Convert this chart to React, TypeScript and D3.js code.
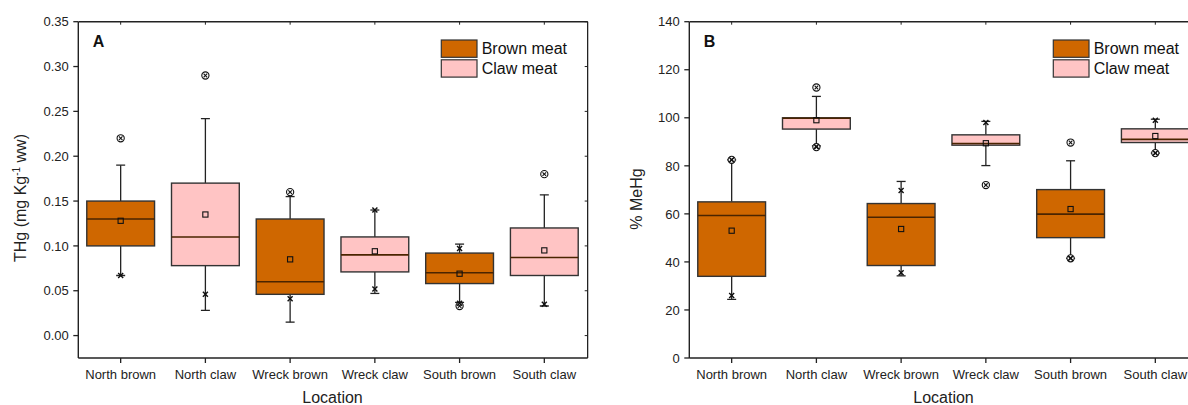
import React from "react";
import * as d3 from "d3";

const categories = ["North brown", "North claw", "Wreck brown", "Wreck claw", "South brown", "South claw"];
const meatType = ["brown", "claw", "brown", "claw", "brown", "claw"];

// Panel A: THg (mg/kg ww)
const aQ1 = [0.1, 0.078, 0.046, 0.071, 0.058, 0.067];
const aMedian = [0.13, 0.11, 0.06, 0.09, 0.07, 0.087];
const aQ3 = [0.15, 0.17, 0.13, 0.11, 0.092, 0.12];
const aMean = [0.128, 0.135, 0.085, 0.094, 0.069, 0.095];
const aWhiskLo = [0.067, 0.028, 0.015, 0.047, 0.037, 0.033];
const aWhiskHi = [0.19, 0.242, 0.155, 0.14, 0.102, 0.157];
const aPctLo = [0.067, 0.046, 0.041, 0.052, 0.036, 0.035];
const aPctHi = [null, null, null, 0.14, 0.097, null];
const aMin = [null, null, null, null, 0.033, null];
const aMax = [0.22, 0.29, 0.16, null, null, 0.18];
const aTicks = [0, 0.05, 0.1, 0.15, 0.2, 0.25, 0.3, 0.35];

// Panel B: % MeHg
const bQ1 = [34, 95.3, 38.5, 88.6, 50.1, 89.7];
const bMedian = [59.3, 99.8, 58.6, 89.3, 59.9, 91];
const bQ3 = [65, 100, 64.3, 92.9, 70.1, 95.4];
const bMean = [53, 99, 53.7, 89.4, 62, 92.4];
const bWhiskLo = [24.4, 88.3, 34.2, 80.1, 41.5, 85.3];
const bWhiskHi = [82.5, 108.9, 73.5, 98.5, 82.1, 99.4];
const bPctLo = [26, 88, 35.5, null, 41.5, 85.3];
const bPctHi = [82.5, null, 69.7, 98, null, 99];
const bMin = [null, 87.8, null, 72, 41.5, 85.3];
const bMax = [82.5, 112.6, null, null, 89.7, null];
const bTicks = [0, 20, 40, 60, 80, 100, 120, 140];

const legendLabels = ["Brown meat", "Claw meat"];
const colors: Record<string, string> = { brown: "#CF6700", claw: "#FFC4C4" };

const FONT = "Arial, 'Liberation Sans', sans-serif";
const AX = "#222";

type PanelProps = {
  left: number; right: number; top: number; bottom: number;
  domain: [number, number]; ticks: number[]; fmt: (v: number) => string;
  q1: number[]; med: number[]; q3: number[]; mean: number[];
  wlo: number[]; whi: number[]; plo: (number | null)[]; phi: (number | null)[];
  mn: (number | null)[]; mx: (number | null)[];
  letter: string; legendX: number; yTitle: React.ReactNode; yTitleX: number; yTitleY: number;
  clipId: string;
};

function Cross({ x, y }: { x: number; y: number }) {
  const s = 2.5;
  return (
    <g stroke="#111" strokeWidth={1.4}>
      <line x1={x - s} y1={y - s} x2={x + s} y2={y + s} />
      <line x1={x - s} y1={y + s} x2={x + s} y2={y - s} />
    </g>
  );
}

function CircX({ x, y }: { x: number; y: number }) {
  const s = 1.8;
  return (
    <g stroke="#111" strokeWidth={1.1}>
      <circle cx={x} cy={y} r={3.6} fill="#fff" />
      <line x1={x - s} y1={y - s} x2={x + s} y2={y + s} />
      <line x1={x - s} y1={y + s} x2={x + s} y2={y - s} />
    </g>
  );
}

function Panel(p: PanelProps) {
  const x = d3.scaleBand<string>().domain(categories).range([p.left, p.left + 6 * 84.73]).paddingInner(0).paddingOuter(0);
  const y = d3.scaleLinear().domain(p.domain).range([p.bottom, p.top]);
  const bw = x.bandwidth() * 0.8;
  const cap = 9;
  return (
    <g>
      <defs>
        <clipPath id={p.clipId}>
          <rect x={p.left} y={0} width={p.right - p.left + 1} height={405} />
        </clipPath>
      </defs>
      <g clipPath={`url(#${p.clipId})`}>
        {categories.map((c, i) => {
          const cx = (x(c) as number) + x.bandwidth() / 2;
          return (
            <g key={c}>
              <line x1={cx} x2={cx} y1={y(p.whi[i])} y2={y(p.q3[i])} stroke={AX} strokeWidth={1.3} />
              <line x1={cx} x2={cx} y1={y(p.wlo[i])} y2={y(p.q1[i])} stroke={AX} strokeWidth={1.3} />
              <line x1={cx - cap / 2} x2={cx + cap / 2} y1={y(p.whi[i])} y2={y(p.whi[i])} stroke={AX} strokeWidth={1.3} />
              <line x1={cx - cap / 2} x2={cx + cap / 2} y1={y(p.wlo[i])} y2={y(p.wlo[i])} stroke={AX} strokeWidth={1.3} />
              <rect x={cx - bw / 2} y={y(p.q3[i])} width={bw} height={y(p.q1[i]) - y(p.q3[i])}
                fill={colors[meatType[i]]} stroke="#333" strokeWidth={1.4} />
              <line x1={cx - bw / 2} x2={cx + bw / 2} y1={y(p.med[i])} y2={y(p.med[i])} stroke="#4a2400" strokeWidth={1.6} />
              <rect x={cx - 2.6} y={y(p.mean[i]) - 2.6} width={5.2} height={5.2} fill="none" stroke="#111" strokeWidth={1.1} />
              {p.mx[i] != null && <CircX x={cx} y={y(p.mx[i] as number)} />}
              {p.mn[i] != null && <CircX x={cx} y={y(p.mn[i] as number)} />}
              {p.phi[i] != null && <Cross x={cx} y={y(p.phi[i] as number)} />}
              {p.plo[i] != null && <Cross x={cx} y={y(p.plo[i] as number)} />}
            </g>
          );
        })}
        {/* frame */}
        <line x1={p.left} x2={p.right} y1={p.top} y2={p.top} stroke={AX} strokeWidth={1.4} />
        <line x1={p.right} x2={p.right} y1={p.top} y2={p.bottom} stroke={AX} strokeWidth={1.4} />
        {categories.map((c) => {
          const cx = (x(c) as number) + x.bandwidth() / 2;
          return <line key={"tt" + c} x1={cx} x2={cx} y1={p.top} y2={p.top + 3} stroke={AX} strokeWidth={1} />;
        })}
        {p.ticks.map((t) => (
          <line key={"rt" + t} x1={p.right - 3} x2={p.right} y1={y(t)} y2={y(t)} stroke={AX} strokeWidth={1} />
        ))}
      </g>
      <line x1={p.left} x2={p.left} y1={p.top} y2={p.bottom} stroke={AX} strokeWidth={1.4} />
      <line x1={p.left} x2={Math.min(p.right, 1188)} y1={p.bottom} y2={p.bottom} stroke={AX} strokeWidth={1.4} />
      {p.ticks.map((t) => (
        <g key={"yt" + t}>
          <line x1={p.left - 5} x2={p.left} y1={y(t)} y2={y(t)} stroke={AX} strokeWidth={1.3} />
          <text x={p.left - 9.5} y={y(t)} dy="0.36em" textAnchor="end" fontSize={13} fontFamily={FONT} fill="#222">{p.fmt(t)}</text>
        </g>
      ))}
      {categories.map((c) => {
        const cx = (x(c) as number) + x.bandwidth() / 2;
        return (
          <g key={"xt" + c}>
            <line x1={cx} x2={cx} y1={p.bottom} y2={p.bottom + 5} stroke={AX} strokeWidth={1.3} />
            <text x={cx} y={379} textAnchor="middle" fontSize={13} fontFamily={FONT} fill="#222">{c}</text>
          </g>
        );
      })}
      <text x={(p.left + p.left + 6 * 84.73) / 2} y={403} textAnchor="middle" fontSize={16} fontFamily={FONT} fill="#222">Location</text>
      <text transform={`translate(${p.yTitleX},${p.yTitleY}) rotate(-90)`} textAnchor="middle" fontSize={16} fontFamily={FONT} fill="#222">{p.yTitle}</text>
      <text x={p.left + 14.5} y={47.3} fontSize={16} fontWeight="bold" fontFamily={FONT} fill="#111">{p.letter}</text>
      {legendLabels.map((l, i) => (
        <g key={l}>
          <rect x={p.legendX} y={40 + i * 19.8} width={35.7} height={17.3} fill={colors[i === 0 ? "brown" : "claw"]} stroke="#333" strokeWidth={1.2} />
          <text x={p.legendX + 40.4} y={54 + i * 19.7} fontSize={16} fontFamily={FONT} fill="#111">{l}</text>
        </g>
      ))}
    </g>
  );
}

export default function App() {
  return (
    <svg width={1188} height={405} style={{ position: "absolute", left: 0, top: 0, background: "#fff" }}>
      <rect x={0} y={0} width={1188} height={405} fill="#fff" />
      <Panel left={78.3} right={587.7} top={21.7} bottom={358} domain={[-0.025, 0.35]} ticks={aTicks}
        fmt={d3.format(".2f")} q1={aQ1} med={aMedian} q3={aQ3} mean={aMean} wlo={aWhiskLo} whi={aWhiskHi}
        plo={aPctLo} phi={aPctHi} mn={aMin} mx={aMax} letter="A" legendX={441.3}
        yTitle={<>THg (mg Kg<tspan dy={-6} fontSize={10}>-1</tspan><tspan dy={6}> ww)</tspan></>}
        yTitleX={25.5} yTitleY={198} clipId="clipA" />
      <Panel left={689.3} right={1197.7} top={21.7} bottom={358} domain={[0, 140]} ticks={bTicks}
        fmt={d3.format("d")} q1={bQ1} med={bMedian} q3={bQ3} mean={bMean} wlo={bWhiskLo} whi={bWhiskHi}
        plo={bPctLo} phi={bPctHi} mn={bMin} mx={bMax} letter="B" legendX={1053.3}
        yTitle={<>% MeHg</>} yTitleX={641.5} yTitleY={199} clipId="clipB" />
    </svg>
  );
}
